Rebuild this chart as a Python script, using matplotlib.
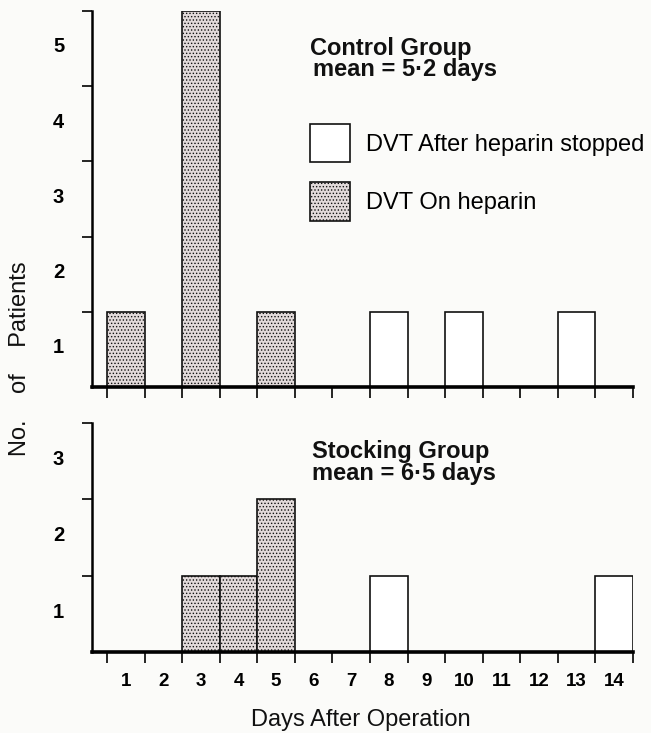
import matplotlib
matplotlib.use("Agg")
import matplotlib.pyplot as plt
from matplotlib.patches import Patch

plt.rcParams['font.family'] = ['Liberation Sans', 'DejaVu Sans']
plt.rcParams['hatch.linewidth'] = 0.6

# ---- data ----
days = list(range(1, 15))
day_labels = [str(d) for d in days]

control_on_days = [1, 3, 5]
control_on_counts = [1, 5, 1]
control_after_days = [8, 10, 13]
control_after_counts = [1, 1, 1]

stock_on_days = [3, 4, 5]
stock_on_counts = [1, 1, 2]
stock_after_days = [8, 14]
stock_after_counts = [1, 1]

control_ymax = 5
stock_ymax = 3

control_title = ["Control Group", "mean = 5\u00b72 days"]
stock_title = ["Stocking Group", "mean = 6\u00b75 days"]
legend_labels = ["DVT After heparin stopped", "DVT On heparin"]
xlabel = "Days After Operation"
ylabel = "No.    of    Patients"

W, H = 651, 733
BG = '#fbfbf9'
SHADE = '#e2dada'
INK = '#111111'

fig = plt.figure(figsize=(W / 100, H / 100), dpi=100, facecolor=BG)

def fx(x):
    return x / W

def fy(y):
    return 1 - y / H

left = fx(92)
width = fx(633) - left
ax1 = fig.add_axes([left, fy(387), width, fy(11) - fy(387)])
ax2 = fig.add_axes([left, fy(652), width, fy(423) - fy(652)])

def style(ax, ymax, show_xlabels):
    ax.set_facecolor(BG)
    ax.set_xlim(0.1, 14.5)
    ax.set_ylim(0, ymax)
    for s in ['top', 'right']:
        ax.spines[s].set_visible(False)
    ax.spines['bottom'].set_linewidth(2.6)
    ax.spines['left'].set_linewidth(1.8)
    # y: ticks at integers, labels centred in intervals
    ax.set_yticks(range(1, ymax + 1))
    ax.set_yticklabels([])
    ax.set_yticks([i - 0.45 for i in range(1, ymax + 1)], minor=True)
    ax.set_yticklabels([str(i) for i in range(1, ymax + 1)], minor=True,
                       fontsize=14.5, fontweight='bold')
    ax.tick_params(axis='y', which='major', length=7, width=1.2, direction='out')
    ax.tick_params(axis='y', which='minor', length=0, pad=20)
    # x: ticks at day boundaries, labels at day centres
    ax.set_xticks([d - 0.5 for d in days] + [days[-1] + 0.5])
    ax.set_xticklabels([])
    ax.tick_params(axis='x', which='major', length=8, width=1.2, direction='out')
    if show_xlabels:
        ax.set_xticks(days, minor=True)
        ax.set_xticklabels(day_labels, minor=True, fontsize=13.5, fontweight='bold')
        ax.tick_params(axis='x', which='minor', length=0, pad=15)

style(ax1, control_ymax, False)
style(ax2, stock_ymax, True)

bar_kw = dict(width=1.0, align='center', linewidth=1.2, edgecolor=INK, zorder=2)
ax1.bar(control_on_days, control_on_counts, color=SHADE, hatch='.....', **bar_kw)
ax1.bar(control_after_days, control_after_counts, color='white', **bar_kw)
ax2.bar(stock_on_days, stock_on_counts, color=SHADE, hatch='.....', **bar_kw)
ax2.bar(stock_after_days, stock_after_counts, color='white', **bar_kw)

title_kw = dict(fontsize=17, fontweight='bold', ha='left', va='baseline', color=INK)
fig.text(fx(310), fy(55), control_title[0], **title_kw)
fig.text(fx(313), fy(76), control_title[1], **title_kw)
fig.text(fx(312), fy(458), stock_title[0], **title_kw)
fig.text(fx(312), fy(480), stock_title[1], **title_kw)

handles = [Patch(facecolor='white', edgecolor=INK, linewidth=1.2),
           Patch(facecolor=SHADE, edgecolor=INK, linewidth=1.2, hatch='.....')]
fig.legend(handles, legend_labels, loc='upper left',
           bbox_to_anchor=(fx(310), fy(124)), frameon=False, fontsize=17,
           handlelength=1.7, handleheight=2.12, handletextpad=0.68,
           labelspacing=0.85, borderpad=0, borderaxespad=0)

fig.text(fx(361), fy(726), xlabel, fontsize=17, ha='center', va='baseline',
         color=INK)
fig.text(fx(20), fy(359), ylabel, fontsize=17, rotation=90, ha='center',
         va='center', color=INK)

fig.savefig('out.png', dpi=100, facecolor=BG)
